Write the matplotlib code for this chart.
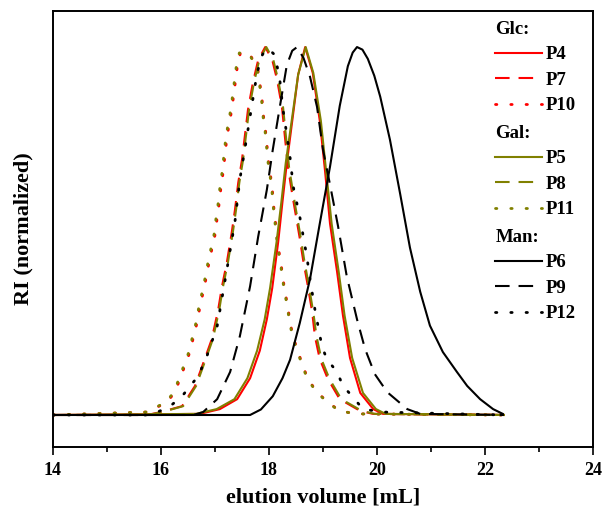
import matplotlib
matplotlib.use('Agg')
import matplotlib.pyplot as plt
from matplotlib.legend import Legend

plt.rcParams['font.family'] = ['Liberation Serif', 'DejaVu Serif']
plt.rcParams['font.weight'] = 'bold'

# ---- data (elution volume [mL], normalized RI) ----
# Glc
p4_x = [14.0, 16.72, 17.09, 17.41, 17.65, 17.83, 17.96, 18.06, 18.17, 18.25, 18.33, 18.44, 18.54, 18.67,
        18.81, 18.94, 19.04, 19.13, 19.26, 19.37, 19.50, 19.69, 19.93, 20.11, 22.35]
p4_y = [0.0, 0.003, 0.016, 0.043, 0.10, 0.175, 0.26, 0.345, 0.47, 0.58, 0.685, 0.81, 0.925, 1.0,
        0.93, 0.80, 0.66, 0.52, 0.39, 0.27, 0.155, 0.06, 0.016, 0.003, 0.0]
p7_x = [14.0, 15.74, 16.0, 16.39, 16.63, 16.81, 16.94, 17.06, 17.13, 17.22, 17.31, 17.37, 17.43, 17.50,
        17.56, 17.61, 17.70, 17.80, 17.93, 18.06, 18.15, 18.24, 18.30, 18.35, 18.43, 18.50, 18.57,
        18.63, 18.72, 18.80, 18.85, 18.94, 19.09, 19.31, 19.69, 19.93, 22.35]
p7_y = [0.0, 0.0, 0.008, 0.024, 0.079, 0.152, 0.206, 0.287, 0.35, 0.415, 0.496, 0.558, 0.631, 0.694,
        0.767, 0.829, 0.902, 0.965, 1.0, 0.965, 0.911, 0.837, 0.748, 0.675, 0.60, 0.54, 0.48,
        0.423, 0.35, 0.279, 0.214, 0.152, 0.098, 0.043, 0.011, 0.003, 0.0]
p10_x = [14.0, 15.74, 15.94, 16.11, 16.26, 16.35, 16.44, 16.54, 16.60, 16.67, 16.72, 16.78, 16.84, 16.89,
         16.95, 17.01, 17.04, 17.08, 17.11, 17.15, 17.18, 17.21, 17.25, 17.30, 17.34, 17.41, 17.47,
         17.63, 17.79, 17.83, 17.87, 17.89, 17.93, 17.96, 17.98, 18.02, 18.06, 18.08, 18.11, 18.17,
         18.22, 18.26, 18.30, 18.35, 18.39, 18.45, 18.54, 18.63, 18.72, 18.89, 19.09, 19.31, 19.63, 22.35]
p10_y = [0.0, 0.008, 0.022, 0.035, 0.062, 0.098, 0.133, 0.173, 0.211, 0.252, 0.293, 0.333, 0.375, 0.415,
         0.456, 0.496, 0.537, 0.577, 0.618, 0.659, 0.699, 0.74, 0.78, 0.821, 0.862, 0.943, 0.984,
         0.984, 0.943, 0.902, 0.862, 0.821, 0.78, 0.74, 0.699, 0.659, 0.618, 0.577, 0.537, 0.456,
         0.415, 0.369, 0.333, 0.293, 0.252, 0.211, 0.171, 0.133, 0.098, 0.062, 0.035, 0.011, 0.003, 0.0]
# Gal
p5_x = [14.0, 16.65, 17.03, 17.36, 17.60, 17.78, 17.92, 18.02, 18.14, 18.23, 18.31, 18.43, 18.54, 18.68,
        18.82, 18.96, 19.06, 19.16, 19.29, 19.40, 19.54, 19.74, 19.98, 20.16, 22.35]
p5_y = [0.0, 0.003, 0.016, 0.043, 0.10, 0.175, 0.26, 0.345, 0.47, 0.58, 0.685, 0.81, 0.925, 1.0,
        0.93, 0.80, 0.66, 0.52, 0.39, 0.27, 0.155, 0.06, 0.016, 0.003, 0.0]
p8_x = [14.0, 15.76, 16.02, 16.41, 16.65, 16.83, 16.96, 17.08, 17.15, 17.24, 17.33, 17.39, 17.45, 17.52,
        17.58, 17.63, 17.72, 17.82, 17.95, 18.08, 18.17, 18.26, 18.32, 18.37, 18.45, 18.52, 18.59,
        18.65, 18.74, 18.82, 18.88, 18.97, 19.12, 19.34, 19.72, 19.96, 22.35]
p8_y = [0.0, 0.0, 0.008, 0.024, 0.079, 0.152, 0.206, 0.287, 0.35, 0.415, 0.496, 0.558, 0.631, 0.694,
        0.767, 0.829, 0.902, 0.965, 1.0, 0.965, 0.911, 0.837, 0.748, 0.675, 0.60, 0.54, 0.48,
        0.423, 0.35, 0.279, 0.214, 0.152, 0.098, 0.043, 0.011, 0.003, 0.0]
p11_x = [14.0, 15.72, 15.92, 16.09, 16.24, 16.33, 16.42, 16.52, 16.58, 16.65, 16.70, 16.76, 16.82, 16.87,
         16.93, 16.99, 17.02, 17.06, 17.09, 17.13, 17.16, 17.19, 17.23, 17.28, 17.32, 17.39, 17.45,
         17.62, 17.78, 17.82, 17.86, 17.88, 17.92, 17.95, 17.97, 18.01, 18.05, 18.07, 18.10, 18.16,
         18.21, 18.25, 18.29, 18.34, 18.38, 18.44, 18.53, 18.62, 18.71, 18.88, 19.08, 19.30, 19.62, 22.35]
p11_y = [0.0, 0.008, 0.022, 0.035, 0.062, 0.098, 0.133, 0.173, 0.211, 0.252, 0.293, 0.333, 0.375, 0.415,
         0.456, 0.496, 0.537, 0.577, 0.618, 0.659, 0.699, 0.74, 0.78, 0.821, 0.862, 0.943, 0.984,
         0.984, 0.943, 0.902, 0.862, 0.821, 0.78, 0.74, 0.699, 0.659, 0.618, 0.577, 0.537, 0.456,
         0.415, 0.369, 0.333, 0.293, 0.252, 0.211, 0.171, 0.133, 0.098, 0.062, 0.035, 0.011, 0.003, 0.0]
# Man
p6_x = [14.0, 17.65, 17.85, 18.07, 18.25, 18.39, 18.57, 18.76, 18.94, 19.13, 19.31, 19.46, 19.55, 19.63,
        19.73, 19.83, 19.95, 20.06, 20.24, 20.43, 20.61, 20.80, 20.98, 21.22, 21.48, 21.67, 21.91, 22.15, 22.33]
p6_y = [0.0, 0.0, 0.015, 0.051, 0.10, 0.15, 0.25, 0.37, 0.52, 0.675, 0.84, 0.948, 0.985, 1.0,
        0.993, 0.968, 0.922, 0.865, 0.748, 0.60, 0.455, 0.335, 0.243, 0.171, 0.117, 0.079, 0.043, 0.016, 0.003]
p9_x = [14.0, 16.60, 16.78, 17.04, 17.28, 17.46, 17.65, 17.80, 17.96, 18.07, 18.20, 18.33, 18.43, 18.52,
        18.64, 18.76, 18.89, 19.00, 19.13, 19.28, 19.44, 19.63, 19.78, 19.96, 20.19, 20.56, 20.80, 22.35]
p9_y = [0.0, 0.0, 0.008, 0.043, 0.117, 0.214, 0.35, 0.485, 0.612, 0.721, 0.837, 0.951, 0.99, 1.0,
        0.97, 0.919, 0.837, 0.721, 0.626, 0.512, 0.377, 0.26, 0.179, 0.111, 0.062, 0.016, 0.003, 0.0]
p12_x = [14.0, 15.80, 15.98, 16.17, 16.39, 16.57, 16.69, 16.85, 17.04, 17.19, 17.37, 17.46, 17.56,
         17.69, 17.78, 17.88, 17.98, 18.11, 18.20, 18.26, 18.33, 18.39, 18.45, 18.57, 18.70, 18.76, 18.85,
         18.98, 19.07, 19.26, 19.37, 19.54, 19.74, 20.11, 22.35]
p12_y = [0.0, 0.0, 0.011, 0.024, 0.051, 0.084, 0.106, 0.16, 0.241, 0.369, 0.526, 0.64, 0.729,
         0.848, 0.93, 0.98, 0.997, 0.978, 0.911, 0.829, 0.762, 0.70, 0.62, 0.539, 0.431, 0.369, 0.287,
         0.187, 0.152, 0.117, 0.079, 0.051, 0.016, 0.008, 0.0]

groups = ['Glc:', 'Gal:', 'Man:']
group_colors = ['#ff0000', '#808000', '#000000']
series = [
    [('P4', p4_x, p4_y), ('P7', p7_x, p7_y), ('P10', p10_x, p10_y)],
    [('P5', p5_x, p5_y), ('P8', p8_x, p8_y), ('P11', p11_x, p11_y)],
    [('P6', p6_x, p6_y), ('P9', p9_x, p9_y), ('P12', p12_x, p12_y)],
]
styles = [dict(linestyle='solid', linewidth=1.5),
          dict(linestyle=(0, (7.0, 4.3)), linewidth=1.5),
          dict(linestyle=(0, (0.5, 5.0)), linewidth=2.0, dash_capstyle='round')]

x_ticks = [14, 16, 18, 20, 22, 24]
x_minor = [15, 17, 19, 21, 23]

fig = plt.figure(figsize=(6.03, 5.11), dpi=100)
ax = fig.add_axes([53 / 603, 64 / 511, 540 / 603, 436 / 511])

handles_by_group = []
for g, col, ser in zip(groups, group_colors, series):
    hs = []
    for (name, xs, ys), st in zip(ser, styles):
        h, = ax.plot(xs, ys, color=col, label=name, **st)
        hs.append(h)
    handles_by_group.append(hs)

ax.set_xlim(14, 24)
ax.set_ylim(-0.087, 1.098)
ax.set_xticks(x_ticks, labels=[str(t) for t in x_ticks], fontsize=13, fontweight='bold')
ax.set_xticks(x_minor, minor=True)
ax.set_yticks([])
ax.tick_params(axis='x', which='both', direction='out', top=False, width=1.2, pad=5)
ax.tick_params(axis='x', which='major', length=6)
ax.tick_params(axis='x', which='minor', length=3.6)
for s in ax.spines.values():
    s.set_linewidth(1.4)

ax.set_xlabel('elution volume [mL]', fontsize=16, fontweight='bold', labelpad=6)
ax.set_ylabel('RI (normalized)', fontsize=16, fontweight='bold', labelpad=14)

legend_tops = [0.978, 0.739, 0.501]
for g, hs, top in zip(groups, handles_by_group, legend_tops):
    leg = Legend(ax, hs, [h.get_label() for h in hs], title=g, loc='upper left',
                 bbox_to_anchor=(0.819, top), frameon=False,
                 prop={'size': 13.5, 'weight': 'bold'},
                 title_fontproperties={'size': 13.5, 'weight': 'bold'},
                 alignment='left', handlelength=2.5, handletextpad=0.2, labelspacing=0.45,
                 borderpad=0, borderaxespad=0)
    ax.add_artist(leg)

fig.savefig('out.png', dpi=100)
